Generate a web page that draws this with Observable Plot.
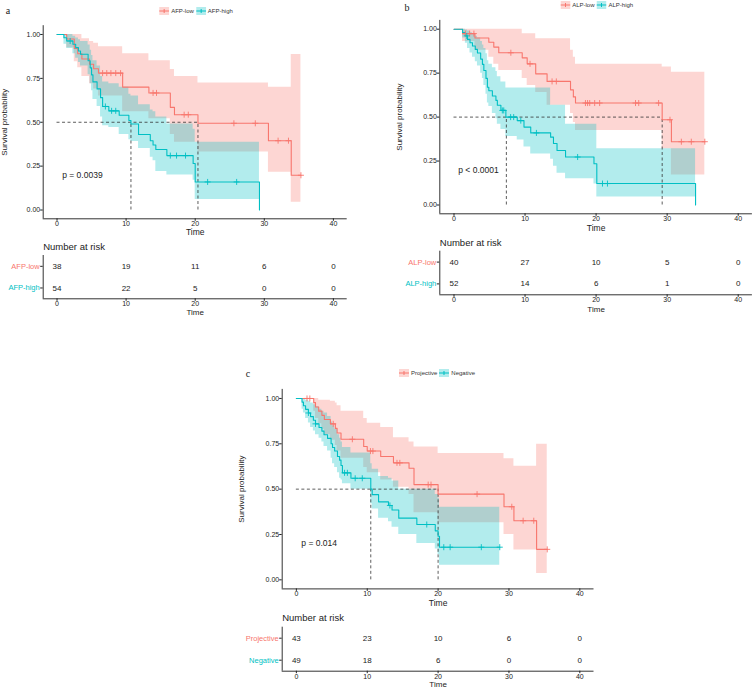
<!DOCTYPE html>
<html><head><meta charset="utf-8">
<script src="https://cdn.jsdelivr.net/npm/d3@7"></script>
<script src="https://cdn.jsdelivr.net/npm/@observablehq/plot@0.6"></script>
<style>
body{margin:0;background:#fff;}
#root{position:relative;width:753px;height:689px;overflow:hidden;font-family:"Liberation Sans",Arial,sans-serif;}
.legend{position:absolute;display:flex;align-items:center;font-size:6px;color:#333;transform:translate(-50%,-50%);white-space:nowrap;}
.legend svg{display:block;margin-right:2px;}
.legend span.lab{margin-right:2px;}
.letter{position:absolute;font-family:"Liberation Serif","DejaVu Serif",serif;font-size:10px;color:#222;transform:translate(-50%,-50%);}
</style></head><body><div id="root"></div>
<script>
// ---------- data ----------
const xTicks = [0, 10, 20, 30, 40];
const yTicks = [0, 0.25, 0.5, 0.75, 1];
const riskTimes = [0, 10, 20, 30, 40];

// Panel a: AFP
const afpLabels = ["AFP-low", "AFP-high"];
const afpLowTime  = [0, 1.4, 2.5, 3.0, 3.6, 4.7, 5.3, 6.0, 9.5, 13.3, 16.4, 17.0, 20.4, 30.6, 33.9, 35.3];
const afpLowSurv  = [1, 0.974, 0.92, 0.89, 0.86, 0.83, 0.805, 0.78, 0.70, 0.667, 0.585, 0.543, 0.494, 0.395, 0.198, 0.198];
const afpLowUpper = [1, 1, 1, 1, 0.975, 0.96, 0.95, 0.93, 0.89, 0.85, 0.80, 0.76, 0.724, 0.70, 0.886, 0.886];
const afpLowLower = [1, 0.925, 0.845, 0.81, 0.76, 0.72, 0.69, 0.65, 0.56, 0.52, 0.43, 0.386, 0.33, 0.215, 0.044, 0.044];
const afpLowCensor = [6.6, 7.2, 7.8, 8.5, 9.2, 13.9, 14.4, 18.4, 19.0, 25.6, 28.7, 32.0, 33.5, 35.3];
const afpHighTime  = [0, 1.0, 1.4, 2.3, 2.7, 3.1, 3.4, 4.5, 4.8, 5.0, 5.2, 5.8, 6.3, 6.6, 7.5, 9.0, 10.4, 10.7, 11.8, 13.5, 13.9, 14.3, 15.9, 19.7, 20.0, 29.3];
const afpHighSurv  = [1, 0.981, 0.963, 0.944, 0.925, 0.906, 0.887, 0.85, 0.81, 0.77, 0.73, 0.69, 0.64, 0.59, 0.565, 0.54, 0.51, 0.49, 0.43, 0.395, 0.37, 0.345, 0.31, 0.265, 0.16, 0];
const afpHighUpper = [1, 1, 1, 0.99, 0.98, 0.97, 0.96, 0.94, 0.91, 0.88, 0.85, 0.82, 0.76, 0.73, 0.72, 0.70, 0.66, 0.65, 0.60, 0.57, 0.56, 0.53, 0.49, 0.46, 0.386, 0.386];
const afpHighLower = [1, 0.945, 0.92, 0.89, 0.865, 0.84, 0.82, 0.77, 0.72, 0.68, 0.63, 0.59, 0.53, 0.48, 0.47, 0.43, 0.40, 0.39, 0.35, 0.30, 0.28, 0.22, 0.20, 0.17, 0.06, 0.06];
const afpHighCensor = [1.9, 7.0, 7.9, 8.5, 16.4, 17.3, 18.6, 21.8, 26.0];
const afpMedians = [20.4, 10.7];
const afpLowRisk = [38, 19, 11, 6, 0];
const afpHighRisk = [54, 22, 5, 0, 0];
const afpP = "p = 0.0039";

// Panel b: ALP
const alpLabels = ["ALP-low", "ALP-high"];
const alpLowTime  = [0, 1.2, 2.95, 4.9, 5.6, 6.3, 9.6, 10.3, 11.5, 13.1, 16.4, 16.8, 17.1, 29.3, 30.6, 35.3];
const alpLowSurv  = [1, 0.975, 0.95, 0.926, 0.898, 0.866, 0.837, 0.803, 0.746, 0.703, 0.655, 0.615, 0.58, 0.485, 0.36, 0.36];
const alpLowUpper = [1, 1, 1, 1, 1, 1, 0.974, 0.974, 0.945, 0.945, 0.88, 0.84, 0.80, 0.785, 0.755, 0.755];
const alpLowLower = [1, 0.93, 0.88, 0.84, 0.80, 0.765, 0.72, 0.68, 0.64, 0.567, 0.52, 0.47, 0.424, 0.32, 0.17, 0.17];
const alpLowCensor = [1.6, 2.2, 2.8, 8.0, 10.7, 13.8, 14.4, 18.5, 18.8, 19.1, 19.8, 20.5, 25.55, 26.0, 28.8, 30.4, 32.0, 33.4, 35.3];
const alpHighTime  = [0, 1.2, 1.6, 1.9, 2.25, 2.6, 3.0, 3.3, 3.75, 4.0, 4.2, 4.5, 4.7, 4.9, 5.4, 5.9, 6.1, 6.6, 7.3, 8.9, 9.85, 10.8, 13.6, 14.0, 14.5, 15.7, 19.7, 20.1, 34.0];
const alpHighSurv  = [1, 0.981, 0.962, 0.942, 0.923, 0.904, 0.885, 0.865, 0.83, 0.80, 0.765, 0.72, 0.67, 0.65, 0.62, 0.595, 0.567, 0.538, 0.50, 0.48, 0.443, 0.41, 0.386, 0.35, 0.31, 0.273, 0.235, 0.122, 0];
const alpHighUpper = [1, 1, 0.995, 0.99, 0.98, 0.97, 0.96, 0.95, 0.93, 0.91, 0.89, 0.86, 0.82, 0.80, 0.78, 0.76, 0.73, 0.70, 0.665, 0.665, 0.665, 0.665, 0.567, 0.567, 0.567, 0.46, 0.46, 0.32, 0.32];
const alpHighLower = [1, 0.95, 0.92, 0.89, 0.865, 0.84, 0.815, 0.79, 0.75, 0.72, 0.68, 0.63, 0.58, 0.56, 0.52, 0.49, 0.46, 0.43, 0.39, 0.37, 0.33, 0.29, 0.26, 0.22, 0.18, 0.15, 0.12, 0.045, 0.045];
const alpHighCensor = [1.8, 6.8, 7.0, 7.97, 8.4, 9.4, 11.6, 17.4, 20.9, 21.6];
const alpMedians = [29.3, 7.37];
const alpLowRisk = [40, 27, 10, 5, 0];
const alpHighRisk = [52, 14, 6, 1, 0];
const alpP = "p < 0.0001";

// Panel c: Projective / Negative
const prjLabels = ["Projective", "Negative"];
const projTime  = [0, 2.45, 2.7, 3.15, 3.6, 3.95, 4.8, 5.5, 5.75, 6.3, 9.5, 10.0, 11.9, 13.7, 15.9, 16.6, 20.0, 29.3, 30.7, 33.9, 35.4];
const projSurv  = [1, 0.977, 0.953, 0.93, 0.907, 0.884, 0.86, 0.835, 0.81, 0.775, 0.735, 0.71, 0.68, 0.645, 0.615, 0.525, 0.4725, 0.403, 0.326, 0.168, 0.168];
const projUpper = [1, 1, 1, 0.99, 0.99, 0.99, 0.985, 0.975, 0.96, 0.93, 0.89, 0.864, 0.84, 0.784, 0.76, 0.733, 0.696, 0.668, 0.626, 0.747, 0.747];
const projLower = [1, 0.93, 0.89, 0.86, 0.83, 0.80, 0.77, 0.74, 0.71, 0.67, 0.62, 0.59, 0.55, 0.51, 0.47, 0.37, 0.315, 0.25, 0.165, 0.035, 0.035];
const projCensor = [1.5, 1.9, 5.2, 7.9, 10.45, 10.8, 14.2, 14.6, 18.6, 19.0, 25.5, 30.4, 32.0, 33.5, 35.4];
const negTime  = [0, 0.8, 1.0, 1.3, 1.7, 2.0, 2.4, 2.7, 3.2, 3.6, 3.9, 4.4, 4.9, 5.1, 5.4, 5.8, 6.1, 6.3, 6.5, 7.7, 10.5, 10.7, 11.6, 13.0, 13.5, 14.45, 17.0, 19.6, 20.0, 20.2, 28.7];
const negSurv  = [1, 0.98, 0.96, 0.94, 0.92, 0.90, 0.88, 0.86, 0.84, 0.82, 0.80, 0.78, 0.75, 0.73, 0.71, 0.68, 0.66, 0.63, 0.59, 0.56, 0.50, 0.47, 0.43, 0.41, 0.385, 0.34, 0.305, 0.27, 0.24, 0.18, 0.18];
const negUpper = [1, 1, 0.995, 0.99, 0.985, 0.975, 0.965, 0.955, 0.94, 0.93, 0.92, 0.90, 0.87, 0.85, 0.83, 0.80, 0.78, 0.76, 0.73, 0.70, 0.64, 0.61, 0.57, 0.56, 0.545, 0.50, 0.50, 0.47, 0.45, 0.40, 0.40];
const negLower = [1, 0.94, 0.92, 0.89, 0.865, 0.84, 0.82, 0.80, 0.78, 0.76, 0.735, 0.71, 0.67, 0.64, 0.62, 0.59, 0.56, 0.55, 0.53, 0.50, 0.42, 0.39, 0.34, 0.32, 0.29, 0.25, 0.20, 0.17, 0.14, 0.08, 0.08];
const negCensor = [1.7, 2.7, 6.8, 7.2, 8.3, 9.3, 13.2, 18.4, 20.8, 21.7, 26.1, 28.7];
const prjMedians = [20.0, 10.5];
const projRisk = [43, 23, 10, 6, 0];
const negRisk = [49, 18, 6, 0, 0];
const prjP = "p = 0.014";

// ---------- helpers ----------
const COL_LOW = "#F8766D", COL_HIGH = "#00BFC4";
const INK = "#222";
function stepAt(times, vals, t) { let v = vals[0]; for (let i = 0; i < times.length; i++) if (times[i] <= t) v = vals[i]; return v; }
function group(name, color, time, surv, upper, lower, censor, risk) {
  return {
    name, color, risk,
    rows: time.map((t, i) => ({t, s: surv[i], hi: upper[i], lo: lower[i]})),
    cens: censor.map(t => ({t, s: stepAt(time, surv, t)}))
  };
}
const root = document.getElementById("root");
function place(el, left, top) { el.style.position = "absolute"; el.style.left = left + "px"; el.style.top = top + "px"; root.appendChild(el); }
const baseStyle = {fontFamily: "Liberation Sans, Arial, sans-serif", background: "transparent", overflow: "visible", color: INK};

function mainPanel(p) {
  const dash = {stroke: "#333", strokeWidth: 0.8, strokeDasharray: "3,2.5"};
  const marks = [];
  p.groups.forEach(g => marks.push(Plot.areaY(g.rows, {x: "t", y1: "lo", y2: "hi", curve: "step-after", fill: g.color, fillOpacity: 0.3})));
  marks.push(Plot.ruleY([0.5], {x1: 0, x2: d3.max(p.medians), ...dash}));
  marks.push(Plot.ruleX(p.medians, {x: d => d, y1: 0, y2: 0.5, ...dash}));
  p.groups.forEach(g => marks.push(Plot.line(g.rows, {x: "t", y: "s", curve: "step-after", stroke: g.color, strokeWidth: 1.1})));
  p.groups.forEach(g => marks.push(Plot.dot(g.cens, {x: "t", y: "s", symbol: "plus", r: 2.1, stroke: g.color, strokeWidth: 0.9})));
  marks.push(Plot.text([p.pText], {x: p.pX, y: 0.2, text: d => d, textAnchor: "start", fontSize: 8.5, fill: INK}));
  marks.push(Plot.ruleX([-2], {stroke: "#333", strokeWidth: 1}));
  marks.push(Plot.ruleY([-0.05], {stroke: "#333", strokeWidth: 1}));
  marks.push(Plot.axisX({ticks: xTicks, tickSize: 2.5, tickPadding: 0, fontSize: 7, label: null}));
  marks.push(Plot.axisY({ticks: yTicks, tickSize: 2.5, tickPadding: 0.5, fontSize: 7, label: null, tickFormat: d3.format(".2f")}));
  marks.push(Plot.text(["Time"], {text: d => d, x: 20, y: -0.05, dy: p.timeDy, fontSize: 8.5, fill: INK}));
  marks.push(Plot.text(["Survival probability"], {text: d => d, x: -2, y: 0.5, dx: p.ylabDx, rotate: -90, fontSize: 8, fill: INK}));
  const svg = Plot.plot({
    width: p.width, height: p.height,
    marginLeft: p.ml, marginRight: p.mr, marginTop: p.mt, marginBottom: p.mb,
    x: {domain: [-2, 42], label: null}, y: {domain: [-0.05, 1.05], label: null},
    style: baseStyle, marks
  });
  place(svg, p.left, p.top);
}

function riskPanel(p) {
  const rowY = i => 0.75 - 0.5 * i;
  const cells = p.groups.flatMap((g, i) => riskTimes.map((t, j) => ({t, row: rowY(i), n: g.risk[j]})));
  const labels = p.groups.map((g, i) => ({name: g.name, color: g.color, row: rowY(i)}));
  const svg = Plot.plot({
    width: p.width, height: p.height,
    marginLeft: p.ml, marginRight: p.mr, marginTop: p.mt, marginBottom: p.mb,
    x: {domain: [-2, 42], label: null}, y: {domain: [0, 1], label: null},
    color: {type: "identity"},
    style: baseStyle,
    marks: [
      Plot.text(cells, {x: "t", y: "row", text: d => String(d.n), fontSize: 8, fill: INK}),
      Plot.text(labels, {x: -2, y: "row", dx: -3.5, textAnchor: "end", text: "name", fill: "color", fontSize: 7.5}),
      Plot.axisY({ticks: [0.25, 0.75], tickSize: 2.5, tickFormat: () => "", label: null}),
      Plot.ruleX([-2], {stroke: "#333", strokeWidth: 1}),
      Plot.ruleY([0], {stroke: "#333", strokeWidth: 1}),
      Plot.axisX({ticks: riskTimes, tickSize: 2.5, tickPadding: 0, fontSize: 7, label: null}),
      Plot.text(["Time"], {text: d => d, x: 20, y: 0, dy: p.timeDy, fontSize: 8, fill: INK}),
      Plot.text(["Number at risk"], {text: d => d, x: -2, y: 1, dy: p.titleDy, textAnchor: "start", fontSize: 9.5, fill: INK})
    ]
  });
  place(svg, p.left, p.top);
}

function legend(cx, cy, groups) {
  const ns = "http://www.w3.org/2000/svg";
  const div = document.createElement("div");
  div.className = "legend";
  groups.forEach(g => {
    const s = document.createElementNS(ns, "svg");
    s.setAttribute("width", 10); s.setAttribute("height", 8);
    const r = document.createElementNS(ns, "rect");
    r.setAttribute("width", 10); r.setAttribute("height", 8); r.setAttribute("fill", g.color); r.setAttribute("fill-opacity", 0.3);
    const l = document.createElementNS(ns, "path");
    l.setAttribute("d", "M0,4H10M5,2V6");
    l.setAttribute("stroke", g.color); l.setAttribute("stroke-width", 1); l.setAttribute("fill", "none");
    s.appendChild(r); s.appendChild(l);
    div.appendChild(s);
    const t = document.createElement("span"); t.className = "lab"; t.textContent = g.name;
    div.appendChild(t);
  });
  div.style.left = cx + "px"; div.style.top = cy + "px";
  root.appendChild(div);
}
function letter(ch, x, y) { const d = document.createElement("div"); d.className = "letter"; d.textContent = ch; d.style.left = x + "px"; d.style.top = y + "px"; root.appendChild(d); }

// ---------- build ----------
const gA = [
  group(afpLabels[0], COL_LOW, afpLowTime, afpLowSurv, afpLowUpper, afpLowLower, afpLowCensor, afpLowRisk),
  group(afpLabels[1], COL_HIGH, afpHighTime, afpHighSurv, afpHighUpper, afpHighLower, afpHighCensor, afpHighRisk)
];
const gB = [
  group(alpLabels[0], COL_LOW, alpLowTime, alpLowSurv, alpLowUpper, alpLowLower, alpLowCensor, alpLowRisk),
  group(alpLabels[1], COL_HIGH, alpHighTime, alpHighSurv, alpHighUpper, alpHighLower, alpHighCensor, alpHighRisk)
];
const gC = [
  group(prjLabels[0], COL_LOW, projTime, projSurv, projUpper, projLower, projCensor, projRisk),
  group(prjLabels[1], COL_HIGH, negTime, negSurv, negUpper, negLower, negCensor, negRisk)
];

mainPanel({groups: gA, medians: afpMedians, pText: afpP, pX: 0.75, left: 0, top: 0, width: 376, height: 240, ml: 42.7, mr: 29.3, mt: 25.2, mb: 21.7, timeDy: 13.8, ylabDx: -38.5});
riskPanel({groups: gA, left: 0, top: 230, width: 376, height: 90, ml: 42.7, mr: 29.3, mt: 25, mb: 21.7, titleDy: -9, timeDy: 13.8});
mainPanel({groups: gB, medians: alpMedians, pText: alpP, pX: 0.6, left: 376, top: 0, width: 377, height: 240, ml: 63.3, mr: 1.1, mt: 19.9, mb: 26.7, timeDy: 14.6, ylabDx: -40});
riskPanel({groups: gB, left: 376, top: 230, width: 377, height: 90, ml: 63.3, mr: 1.1, mt: 20.7, mb: 25.7, titleDy: -8.4, timeDy: 14.2});
mainPanel({groups: gC, medians: prjMedians, pText: prjP, pX: 0.7, left: 200, top: 360, width: 400, height: 250, ml: 81.7, mr: 6.5, mt: 28.9, mb: 21.6, timeDy: 14.5, ylabDx: -41});
riskPanel({groups: gC, left: 200, top: 600, width: 400, height: 89, ml: 81.7, mr: 6.5, mt: 26.7, mb: 18.3, titleDy: -9.4, timeDy: 13.4});

legend(197, 11, gA);
legend(597.7, 4.7, gB);
legend(438, 373.3, gC);
letter("a", 8, 10);
letter("b", 407, 7);
letter("c", 248, 373);
</script></body></html>
